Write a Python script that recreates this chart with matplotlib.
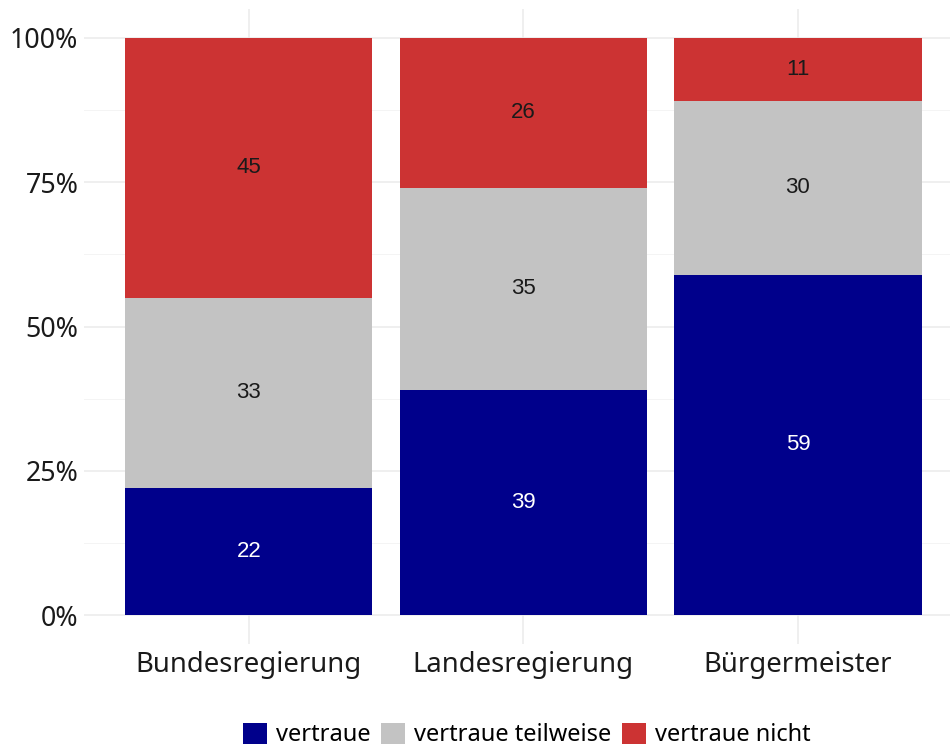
import matplotlib
matplotlib.use("Agg")
import matplotlib.pyplot as plt
from matplotlib.patches import Patch
import numpy as np

categories = ["Bundesregierung", "Landesregierung", "Bürgermeister"]
vertraue = [22, 39, 59]
teilweise = [33, 35, 30]
nicht = [45, 26, 11]
series_names = ["vertraue", "vertraue teilweise", "vertraue nicht"]
colors = ["#00008B", "#C3C3C3", "#CC3333"]
label_colors = ["white", "#1a1a1a", "#1a1a1a"]
yticks = [0, 0.25, 0.5, 0.75, 1.0]
ytick_labels = ["0%", "25%", "50%", "75%", "100%"]

plt.rcParams['font.family'] = ['Noto Sans', 'DejaVu Sans']

fig = plt.figure(figsize=(9.5, 7.49), dpi=100)
ax = fig.add_axes([84/950, 1 - 644/749, 1 - 84/950, (644 - 9)/749])

x = np.arange(1, len(categories) + 1)
bottom = np.zeros(len(categories))
for vals, col, lc in zip([vertraue, teilweise, nicht], colors, label_colors):
    v = np.array(vals) / 100.0
    ax.bar(x, v, width=0.9, bottom=bottom, color=col, zorder=2)
    for xi, b, h, raw in zip(x, bottom, v, vals):
        ax.text(xi, b + h / 2, str(raw), ha="center", va="center",
                color=lc, fontsize=16, family=["Liberation Sans", "DejaVu Sans"], zorder=3)
    bottom += v

ax.set_xlim(0.4, 3 + 152 / 274.5)
ax.set_ylim(-0.05, 1.05)
ax.set_xticks(x)
ax.set_xticklabels(categories, fontsize=19.8)
ax.set_yticks(yticks)
ax.set_yticklabels(ytick_labels, fontsize=19.3)
ax.set_yticks([0.125, 0.375, 0.625, 0.875], minor=True)
ax.tick_params(axis="both", which="both", length=0, colors="#1a1a1a")
ax.tick_params(axis="x", pad=5)
ax.tick_params(axis="y", pad=4)
ax.grid(True, which="major", color="#EBEBEB", linewidth=1.1, zorder=0)
ax.grid(True, which="minor", axis="y", color="#F2F2F2", linewidth=0.6, zorder=0)
ax.set_axisbelow(True)
for s in ax.spines.values():
    s.set_visible(False)

handles = [Patch(facecolor=c, edgecolor="none") for c in colors]
fig.legend(handles, series_names, loc="lower center", bbox_to_anchor=(527/950, -0.026),
           ncol=3, frameon=False, fontsize=17, handlelength=1.0, handleheight=1.0,
           handletextpad=0.4, columnspacing=0.45)

fig.savefig("out.png", dpi=100)
